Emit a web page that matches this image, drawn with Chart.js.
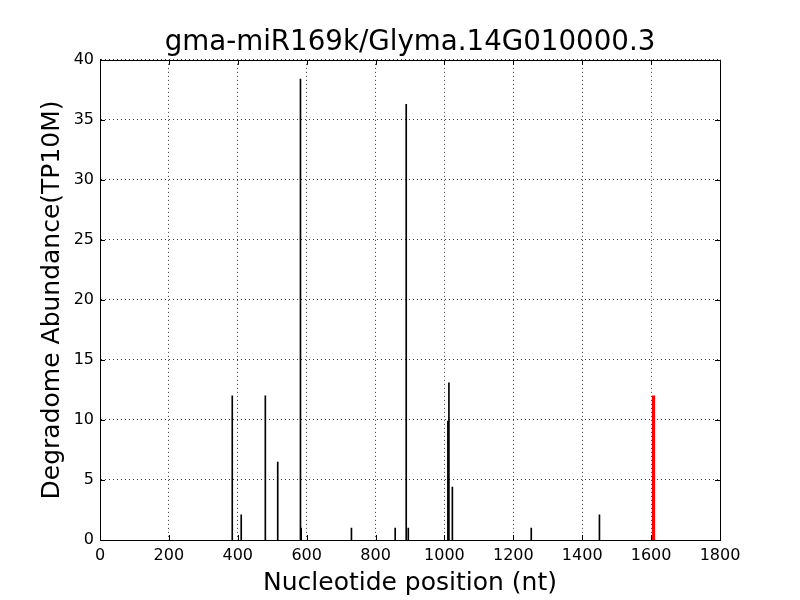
<!DOCTYPE html>
<html>
<head>
<meta charset="utf-8">
<script src="https://cdn.jsdelivr.net/npm/chart.js@4/dist/chart.umd.min.js"></script>
<style>
  html, body { margin: 0; padding: 0; background: #fff; }
  #wrap { width: 800px; height: 600px; }
</style>
</head>
<body>
<div id="wrap"><canvas id="chart" width="800" height="600"></canvas></div>
<script>
// degradome reads along the transcript (nt position, TP10M)
const positions = [384, 410, 480, 516, 582, 584, 730, 857, 889, 895, 1010, 1013, 1023, 1252, 1450];
const abundance = [12, 2.1, 12, 6.5, 38.4, 1, 1, 1, 36.3, 1, 9.9, 13.1, 4.4, 1, 2.1];
// predicted cleavage site
const sitePositions = [1607];
const siteAbundance = [12];
const xTicks = [0, 200, 400, 600, 800, 1000, 1200, 1400, 1600, 1800];
const yTicks = [0, 5, 10, 15, 20, 25, 30, 35, 40];

const font = 'DejaVu Sans';

const toPoints = (xs, ys) => xs.map((x, i) => ({ x: x, y: ys[i] }));

// frame on all four sides plus inward tick marks, like matplotlib
const framePlugin = {
  id: 'frame',
  afterDraw(chart) {
    const { ctx, chartArea: a, scales } = chart;
    ctx.save();
    ctx.strokeStyle = '#000';
    ctx.lineWidth = 1;
    ctx.beginPath();
    xTicks.forEach(v => {
      const px = Math.round(scales.x.getPixelForValue(v)) + 0.5;
      ctx.moveTo(px, a.bottom); ctx.lineTo(px, a.bottom - 5);
      ctx.moveTo(px, a.top); ctx.lineTo(px, a.top + 5);
    });
    yTicks.forEach(v => {
      const py = Math.round(scales.y.getPixelForValue(v)) + 0.5;
      ctx.moveTo(a.left, py); ctx.lineTo(a.left + 5, py);
      ctx.moveTo(a.right, py); ctx.lineTo(a.right - 5, py);
    });
    ctx.stroke();
    ctx.strokeRect(Math.round(a.left) + 0.5, Math.round(a.top) + 0.5,
      Math.round(a.right - a.left), Math.round(a.bottom - a.top));
    ctx.restore();
  }
};

new Chart(document.getElementById('chart'), {
  type: 'bar',
  data: {
    datasets: [
      {
        data: toPoints(positions, abundance),
        backgroundColor: '#000',
        barThickness: 1,
        grouped: false
      },
      {
        data: toPoints(sitePositions, siteAbundance),
        backgroundColor: '#ff0000',
        barThickness: 2.5,
        grouped: false
      }
    ]
  },
  options: {
    responsive: false,
    animation: false,
    layout: { padding: { left: 0, right: 80, top: 0, bottom: 0 } },
    plugins: {
      legend: { display: false },
      tooltip: { enabled: false },
      title: {
        display: true,
        text: 'gma-miR169k/Glyma.14G010000.3',
        color: '#000',
        fullSize: false,
        font: { family: font, size: 27.7, weight: 'normal', lineHeight: 1.2 },
        padding: { top: 26, bottom: 0.6 }
      }
    },
    scales: {
      x: {
        type: 'linear',
        min: 0,
        max: 1800,
        offset: false,
        afterBuildTicks: s => { s.ticks = xTicks.map(v => ({ value: v })); },
        afterFit: s => { s.height = 60; },
        ticks: {
          color: '#000', font: { family: font, size: 16 }, padding: 6, maxRotation: 0,
          callback: v => String(v)
        },
        grid: { color: '#000', lineWidth: 0.8, drawTicks: false, offset: false },
        border: { display: true, color: '#000', width: 1, dash: [1, 3] },
        title: {
          display: true,
          text: 'Nucleotide position (nt)',
          color: '#000',
          font: { family: font, size: 25, lineHeight: 1.2 },
          padding: { top: 0, bottom: 2 }
        }
      },
      y: {
        min: 0,
        max: 40,
        afterBuildTicks: s => { s.ticks = yTicks.map(v => ({ value: v })); },
        afterFit: s => { s.width = 100; },
        ticks: {
          color: '#000', font: { family: font, size: 16 }, padding: 6,
          callback: v => String(v)
        },
        grid: { color: '#000', lineWidth: 0.8, drawTicks: false },
        border: { display: true, color: '#000', width: 1, dash: [1, 3] },
        title: {
          display: true,
          text: 'Degradome Abundance(TP10M)',
          color: '#000',
          font: { family: font, size: 25, lineHeight: 1.2 },
          padding: { top: 37, bottom: 0 }
        }
      }
    }
  },
  plugins: [framePlugin]
});
</script>
</body>
</html>
